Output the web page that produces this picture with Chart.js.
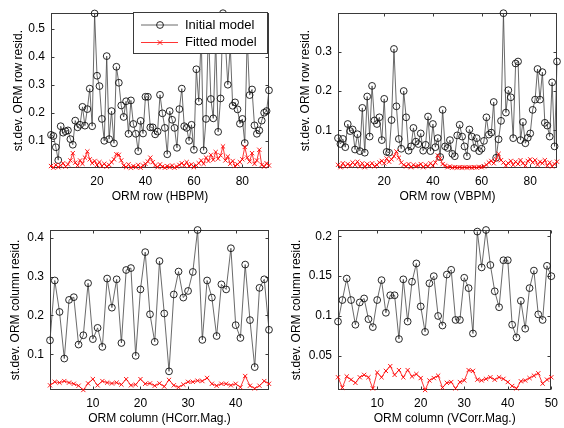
<!DOCTYPE html>
<html>
<head>
<meta charset="utf-8">
<script src="https://cdn.jsdelivr.net/npm/chart.js@4.4.1/dist/chart.umd.min.js"></script>
<style>
    html, body { margin: 0; padding: 0; background: #fff; }
    #wrap { position: relative; width: 564px; height: 428px; }
    canvas { position: absolute; }
</style>
</head>
<body>
<div id="wrap">
    <canvas id="rowH" width="282" height="214" style="left:0;top:0"></canvas>
    <canvas id="rowV" width="282" height="214" style="left:282px;top:0"></canvas>
    <canvas id="colH" width="282" height="214" style="left:0;top:214px"></canvas>
    <canvas id="colV" width="282" height="214" style="left:282px;top:214px"></canvas>
</div>
<script>
// ORM row residuals, horizontal BPMs (91 rows)
const rowInitialH = [0.121,0.117,0.077,0.031,0.152,0.129,0.134,0.137,0.106,0.086,
    0.172,0.148,0.157,0.221,0.154,0.213,0.286,0.152,0.554,0.332,
    0.295,0.178,0.100,0.402,0.106,0.206,0.091,0.364,0.307,0.226,
    0.185,0.241,0.125,0.244,0.160,0.125,0.063,0.171,0.126,0.257,
    0.257,0.148,0.148,0.123,0.133,0.264,0.198,0.146,0.052,0.206,
    0.175,0.146,0.075,0.213,0.286,0.152,0.146,0.100,0.157,0.068,
    0.355,0.240,0.480,0.066,0.178,0.500,0.249,0.180,0.460,0.132,
    0.251,0.555,0.450,0.300,0.440,0.225,0.237,0.212,0.161,0.178,
    0.092,0.470,0.263,0.283,0.155,0.125,0.137,0.172,0.200,0.206,
    0.280];
const rowFittedH = [0.010,0.004,0.014,0.006,0.012,0.020,0.008,0.016,0.030,0.056,
    0.022,0.012,0.030,0.018,0.040,0.062,0.034,0.020,0.028,0.014,
    0.024,0.010,0.018,0.008,0.014,0.024,0.034,0.052,0.050,0.030,
    0.012,0.006,0.016,0.004,0.010,0.006,0.014,0.004,0.012,0.018,
    0.026,0.040,0.024,0.012,0.006,0.016,0.008,0.004,0.010,0.006,
    0.012,0.004,0.008,0.014,0.020,0.012,0.024,0.010,0.016,0.006,
    0.012,0.020,0.030,0.018,0.040,0.028,0.050,0.032,0.060,0.036,
    0.048,0.080,0.030,0.044,0.018,0.028,0.010,0.016,0.024,0.034,
    0.078,0.040,0.026,0.056,0.018,0.030,0.068,0.014,0.008,0.020,
    0.012];

// ORM row residuals, vertical BPMs (91 rows)
const rowInitialV = [0.080,0.065,0.078,0.057,0.116,0.098,0.102,0.051,0.090,0.047,
    0.157,0.043,0.186,0.084,0.213,0.125,0.116,0.133,0.075,0.180,
    0.045,0.043,0.126,0.307,0.161,0.078,0.053,0.200,0.133,0.048,
    0.059,0.106,0.071,0.065,0.092,0.048,0.063,0.135,0.047,0.116,
    0.057,0.080,0.032,0.152,0.059,0.055,0.075,0.040,0.034,0.087,
    0.114,0.084,0.059,0.034,0.102,0.084,0.055,0.080,0.047,0.053,
    0.073,0.133,0.089,0.094,0.172,0.030,0.077,0.124,0.398,0.145,
    0.202,0.184,0.080,0.270,0.275,0.075,0.121,0.067,0.081,0.092,
    0.152,0.178,0.256,0.178,0.248,0.119,0.112,0.084,0.222,0.059,
    0.275];
const rowFittedV = [0.012,0.006,0.016,0.008,0.014,0.010,0.018,0.012,0.020,0.008,
    0.016,0.006,0.014,0.010,0.016,0.008,0.012,0.018,0.022,0.016,
    0.028,0.020,0.026,0.034,0.046,0.030,0.018,0.012,0.008,0.014,
    0.006,0.012,0.008,0.010,0.014,0.006,0.012,0.008,0.016,0.010,
    0.018,0.036,0.028,0.014,0.010,0.006,0.008,0.005,0.006,0.005,
    0.006,0.005,0.006,0.005,0.006,0.005,0.006,0.005,0.007,0.006,
    0.008,0.012,0.018,0.022,0.016,0.026,0.040,0.024,0.018,0.010,
    0.016,0.022,0.012,0.020,0.014,0.024,0.016,0.010,0.022,0.026,
    0.018,0.024,0.012,0.020,0.016,0.024,0.010,0.018,0.008,0.014,
    0.020];

// ORM column residuals, horizontal correctors (47 columns)
const colInitialH = [0.136,0.290,0.209,0.089,0.240,0.247,0.125,0.149,0.283,0.139,
    0.168,0.119,0.295,0.220,0.293,0.129,0.317,0.322,0.096,0.267,
    0.363,0.203,0.132,0.340,0.205,0.056,0.254,0.313,0.246,0.263,
    0.312,0.420,0.137,0.290,0.246,0.147,0.280,0.267,0.373,0.175,
    0.142,0.331,0.188,0.067,0.271,0.293,0.163];
const colFittedH = [0.020,0.029,0.027,0.031,0.027,0.024,0.019,0.008,0.025,0.036,
    0.020,0.031,0.027,0.025,0.027,0.022,0.036,0.020,0.022,0.036,
    0.024,0.025,0.019,0.025,0.017,0.034,0.020,0.015,0.022,0.029,
    0.029,0.032,0.031,0.039,0.024,0.019,0.024,0.024,0.020,0.024,
    0.015,0.044,0.019,0.012,0.019,0.031,0.024];

// ORM column residuals, vertical correctors (50 columns)
const colInitialV = [0.093,0.120,0.147,0.120,0.089,0.117,0.122,0.096,0.086,0.120,
    0.145,0.104,0.126,0.126,0.071,0.146,0.093,0.143,0.166,0.112,
    0.080,0.141,0.150,0.100,0.088,0.152,0.158,0.095,0.095,0.148,
    0.135,0.078,0.206,0.161,0.208,0.164,0.131,0.111,0.170,0.170,
    0.089,0.073,0.119,0.084,0.135,0.157,0.102,0.095,0.163,0.150];
const colFittedV = [0.023,0.010,0.024,0.020,0.016,0.023,0.026,0.023,0.009,0.029,
    0.023,0.031,0.037,0.026,0.032,0.023,0.032,0.024,0.027,0.022,
    0.007,0.019,0.022,0.025,0.010,0.016,0.017,0.009,0.017,0.019,
    0.032,0.031,0.020,0.019,0.021,0.023,0.020,0.023,0.021,0.017,
    0.012,0.009,0.018,0.019,0.022,0.025,0.028,0.015,0.020,0.023];

// tick labels
const rowXTicks = [20, 40, 60, 80];
const colXTicksH = [10, 20, 30, 40];
const colXTicksV = [10, 20, 30, 40, 50];
const rowYTicksH = [0.1, 0.2, 0.3, 0.4, 0.5];
const rowYTicksV = [0.1, 0.2, 0.3];
const colYTicksH = [0.1, 0.2, 0.3, 0.4];
const colYTicksV = [0.05, 0.1, 0.15, 0.2];

const seriesNames = ['Initial model', 'Fitted model'];

Chart.defaults.font.family = '"Liberation Sans", Arial, sans-serif';
Chart.defaults.font.size = 12;
Chart.defaults.color = '#000';

const frameColor = '#3a3a3a';

// matlab style box with inward ticks, plus the boxed legend
const matlabBox = {
    id: 'matlabBox',
    beforeDatasetsDraw(chart) {
        const {ctx, chartArea: a, scales: {x, y}} = chart;
        const L = Math.round(a.left) + 0.5, R = Math.round(a.right) - 0.5;
        const T = Math.round(a.top) + 0.5, B = Math.round(a.bottom) - 0.5;
        ctx.save();
        ctx.strokeStyle = frameColor;
        ctx.lineWidth = 1;
        ctx.strokeRect(L, T, R - L, B - T);
        ctx.beginPath();
        x.ticks.forEach(t => {
            const p = Math.round(x.getPixelForValue(t.value)) + 0.5;
            ctx.moveTo(p, B); ctx.lineTo(p, B - 3);
            ctx.moveTo(p, T); ctx.lineTo(p, T + 3);
        });
        y.ticks.forEach(t => {
            const p = Math.round(y.getPixelForValue(t.value)) + 0.5;
            ctx.moveTo(L, p); ctx.lineTo(L + 3, p);
            ctx.moveTo(R, p); ctx.lineTo(R - 3, p);
        });
        ctx.stroke();
        ctx.restore();
    },
    afterDatasetsDraw(chart, args, opts) {
        if (!opts.legend) return;
        const ctx = chart.ctx;
        const bx = 133.5, by = 12.5, bw = 134, bh = 41;
        ctx.save();
        ctx.fillStyle = '#fff';
        ctx.fillRect(bx, by, bw, bh);
        ctx.strokeStyle = frameColor;
        ctx.lineWidth = 1;
        ctx.strokeRect(bx, by, bw, bh);
        const rows = [25, 42.5];
        chart.data.datasets.forEach((ds, i) => {
            const yy = rows[i];
            ctx.strokeStyle = ds.borderColor;
            ctx.lineWidth = ds.borderWidth;
            ctx.beginPath();
            ctx.moveTo(141, yy); ctx.lineTo(178, yy);
            ctx.stroke();
            ctx.lineWidth = ds.pointBorderWidth;
            ctx.strokeStyle = ds.pointBorderColor;
            ctx.beginPath();
            if (ds.pointStyle === 'circle') {
                ctx.arc(160, yy, ds.pointRadius, 0, Math.PI * 2);
            } else {
                const r = ds.pointRadius * 0.8;
                ctx.moveTo(160 - r, yy - r); ctx.lineTo(160 + r, yy + r);
                ctx.moveTo(160 - r, yy + r); ctx.lineTo(160 + r, yy - r);
            }
            ctx.stroke();
            ctx.fillStyle = '#000';
            ctx.font = '13px "Liberation Sans", Arial, sans-serif';
            ctx.textBaseline = 'middle';
            ctx.fillText(ds.label, 185, yy);
        });
        ctx.restore();
    }
};

function makePanel(id, p) {
    const toPoints = arr => arr.map((v, i) => ({x: i + 1, y: v}));
    return new Chart(document.getElementById(id), {
        type: 'line',
        data: {
            datasets: [{
                label: seriesNames[0],
                data: toPoints(p.initial),
                borderColor: '#444',
                borderWidth: 0.8,
                pointStyle: 'circle',
                pointRadius: 3.4,
                pointBorderWidth: 0.9,
                pointBorderColor: '#111',
                pointBackgroundColor: 'rgba(0,0,0,0)',
                clip: false,
                order: 1,
            }, {
                label: seriesNames[1],
                data: toPoints(p.fitted),
                borderColor: '#ff0000',
                borderWidth: 0.8,
                pointStyle: 'crossRot',
                pointRadius: 3,
                pointBorderWidth: 0.9,
                pointBorderColor: '#ff0000',
                clip: false,
                order: 0,
            }]
        },
        options: {
            responsive: false,
            animation: false,
            devicePixelRatio: 1,
            layout: {padding: p.pad},
            plugins: {
                legend: {display: false},
                tooltip: {enabled: false},
                matlabBox: {legend: !!p.legend},
            },
            scales: {
                x: {
                    type: 'linear',
                    min: p.xMin,
                    max: p.xMax,
                    grid: {display: false, drawTicks: false},
                    border: {display: false},
                    afterBuildTicks: s => { s.ticks = p.xTicks.map(v => ({value: v})); },
                    afterFit: s => { s.height = p.xHeight; },
                    ticks: {padding: 6, maxRotation: 0, color: '#000'},
                    title: {display: true, text: p.xTitle, color: '#000', padding: {top: 0, bottom: p.xTitlePad}},
                },
                y: {
                    type: 'linear',
                    min: p.yMin,
                    max: p.yMax,
                    grid: {display: false, drawTicks: false},
                    border: {display: false},
                    afterBuildTicks: s => { s.ticks = p.yTicks.map(v => ({value: v})); },
                    afterFit: s => { s.width = p.yWidth; },
                    ticks: {padding: 6, color: '#000', callback: v => String(v)},
                    title: {display: true, text: p.yTitle, color: '#000', padding: {top: p.yTitlePad, bottom: 0}},
                }
            }
        },
        plugins: [matlabBox]
    });
}

makePanel('rowH', {
    initial: rowInitialH, fitted: rowFittedH, legend: true,
    xMin: 1, xMax: 91, xTicks: rowXTicks, yMin: 0.003, yMax: 0.555, yTicks: rowYTicksH,
    xTitle: 'ORM row (HBPM)', yTitle: 'st.dev. ORM row resid.',
    pad: {left: 0, top: 8, right: 13, bottom: 0}, yWidth: 51, xHeight: 46,
    xTitlePad: 10.5, yTitlePad: 11,
});
makePanel('rowV', {
    initial: rowInitialV, fitted: rowFittedV,
    xMin: 1, xMax: 91, xTicks: rowXTicks, yMin: 0.004, yMax: 0.398, yTicks: rowYTicksV,
    xTitle: 'ORM row (VBPM)', yTitle: 'st.dev. ORM row resid.',
    pad: {left: 0, top: 8, right: 7, bottom: 0}, yWidth: 56, xHeight: 46,
    xTitlePad: 10.5, yTitlePad: 16,
});
makePanel('colH', {
    initial: colInitialH, fitted: colFittedH,
    xMin: 1, xMax: 47, xTicks: colXTicksH, yMin: 0.008, yMax: 0.42, yTicks: colYTicksH,
    xTitle: 'ORM column (HCorr.Mag.)', yTitle: 'st.dev. ORM column resid.',
    pad: {left: 0, top: 16, right: 13, bottom: 0}, yWidth: 50, xHeight: 38,
    xTitlePad: 2, yTitlePad: 8,
});
makePanel('colV', {
    initial: colInitialV, fitted: colFittedV,
    xMin: 1, xMax: 50, xTicks: colXTicksV, yMin: 0.007, yMax: 0.208, yTicks: colYTicksV,
    xTitle: 'ORM column (VCorr.Mag.)', yTitle: 'st.dev. ORM column resid.',
    pad: {left: 0, top: 16, right: 7, bottom: 0}, yWidth: 56, xHeight: 38,
    xTitlePad: 2, yTitlePad: 7.5,
});
</script>
</body>
</html>
